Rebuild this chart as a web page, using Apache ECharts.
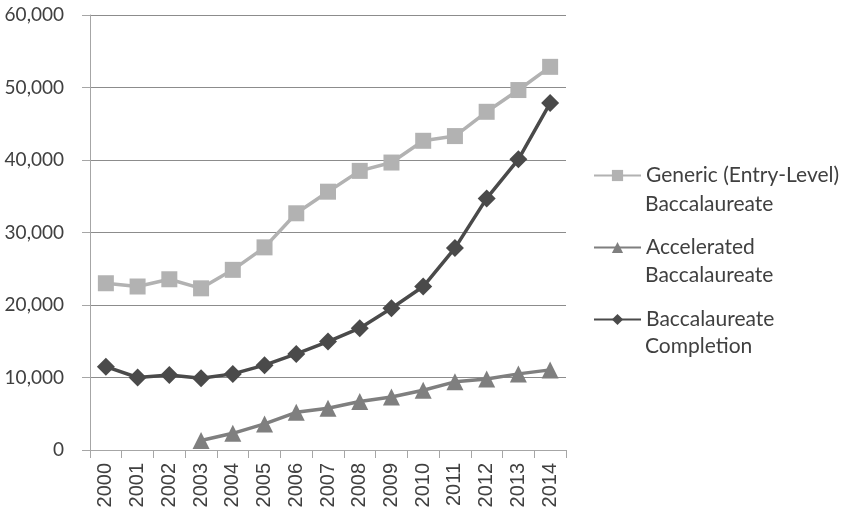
<!DOCTYPE html>
<html>
<head>
<meta charset="utf-8">
<script src="https://cdn.jsdelivr.net/npm/echarts@6/dist/echarts.min.js"></script>
<style>
html,body{margin:0;padding:0;background:#fff;}
#chart{width:846px;height:516px;}
</style>
</head>
<body>
<div id="chart"></div>
<script>
const years = ['2000','2001','2002','2003','2004','2005','2006','2007','2008','2009','2010','2011','2012','2013','2014'];
const genericValues = [23000, 22550, 23550, 22300, 24850, 27950, 32650, 35630, 38500, 39650, 42650, 43300, 46650, 49650, 52850];
const acceleratedValues = [null, null, null, 1300, 2300, 3600, 5200, 5750, 6700, 7300, 8250, 9400, 9800, 10500, 11050];
const completionValues = [11500, 10000, 10350, 9900, 10500, 11700, 13250, 14950, 16800, 19550, 22550, 27850, 34700, 40100, 47850];
const seriesNames = ['Generic (Entry-Level) Baccalaureate', 'Accelerated Baccalaureate', 'Baccalaureate Completion'];
const legendFirstLines = ['Generic (Entry-Level)', 'Accelerated', 'Baccalaureate'];
const legendSecondLines = ['Baccalaureate', 'Baccalaureate', 'Completion'];
const yTicks = [0, 10000, 20000, 30000, 40000, 50000, 60000];

const chart = echarts.init(document.getElementById('chart'));
const colors = ['#b2b2b2', '#7f7f7f', '#4a4a4a'];
const legendTop = 165, legendStep = 71, legendTextX = 645;
chart.setOption({
  animation: false,
  backgroundColor: '#ffffff',
  grid: {left: 90, right: 280, top: 15, bottom: 66},
  legend: {
    orient: 'vertical',
    left: 593,
    top: legendTop,
    padding: 0,
    itemWidth: 47,
    itemHeight: 14,
    itemGap: legendStep - 20,
    textStyle: {fontFamily: 'Lato', fontSize: 21, color: '#404040', lineHeight: 20},
    formatter: name => legendFirstLines[seriesNames.indexOf(name)],
    data: seriesNames
  },
  graphic: legendSecondLines.map((t, i) => ({
    type: 'text',
    left: legendTextX,
    top: legendTop + 10 + 29 + i * legendStep - 10,
    style: {text: t, fontFamily: 'Lato', fontSize: 21, fill: '#404040'}
  })),
  xAxis: {
    type: 'category',
    data: years,
    boundaryGap: true,
    axisLine: {lineStyle: {color: '#a6a6a6', width: 1}},
    axisTick: {show: true, length: 8, lineStyle: {color: '#a6a6a6'}},
    axisLabel: {rotate: 90, margin: 13, fontFamily: 'Liberation Sans', fontSize: 20, color: '#404040'}
  },
  yAxis: {
    type: 'value',
    min: 0, max: 60000, interval: 10000,
    axisLine: {show: true, lineStyle: {color: '#a6a6a6'}},
    axisTick: {show: true, length: 8, lineStyle: {color: '#a6a6a6'}},
    splitLine: {lineStyle: {color: '#8c8c8c', width: 1}},
    axisLabel: {
      margin: 26, fontFamily: 'Lato', fontSize: 19, color: '#404040',
      formatter: v => yTicks.includes(v) ? v.toLocaleString('en-US') : ''
    }
  },
  series: [
    {name: seriesNames[0], type: 'line', data: genericValues, symbol: 'rect', symbolSize: 16,
     lineStyle: {width: 3.5, color: colors[0]}, itemStyle: {color: colors[0]}},
    {name: seriesNames[1], type: 'line', data: acceleratedValues, symbol: 'triangle', symbolSize: 17,
     lineStyle: {width: 3.5, color: colors[1]}, itemStyle: {color: colors[1]}},
    {name: seriesNames[2], type: 'line', data: completionValues, symbol: 'diamond', symbolSize: 18,
     lineStyle: {width: 3.5, color: colors[2]}, itemStyle: {color: colors[2]}}
  ]
});
</script>
</body>
</html>
